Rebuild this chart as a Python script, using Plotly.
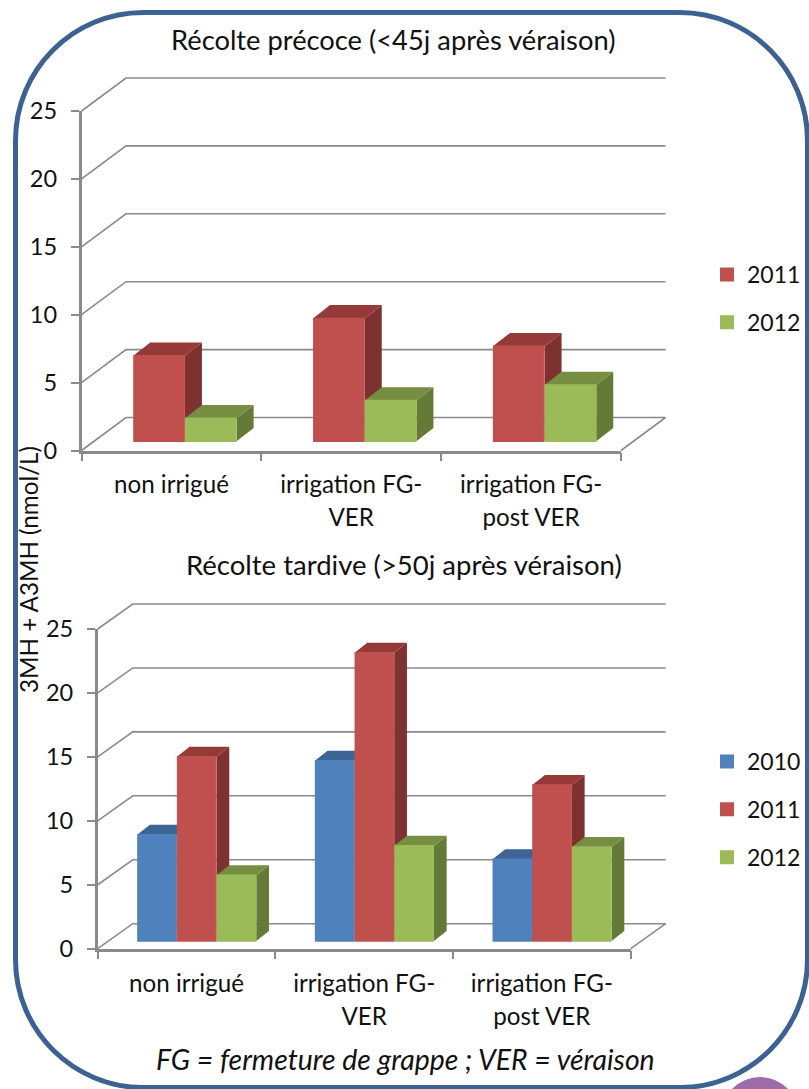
import plotly.graph_objects as go

W, H = 809, 1089
FONT = "Lato"
GRID = "#8a8a8a"

# ---- data ----
categories = ["non irrigué", "irrigation FG-<br>VER", "irrigation FG-<br>post VER"]
top_years = ["2011", "2012"]
top_2011 = [6.3, 9.05, 7.0]
top_2012 = [1.7, 3.0, 4.15]
bottom_years = ["2010", "2011", "2012"]
bottom_2010 = [8.3, 14.1, 6.4]
bottom_2011 = [14.4, 22.55, 12.2]
bottom_2012 = [5.15, 7.45, 7.35]
y_ticks = [0, 5, 10, 15, 20, 25]

front = {"2010": "#4F81BD", "2011": "#C0504D", "2012": "#9BBB59"}
roof = {"2010": "#3C6494", "2011": "#953A38", "2012": "#768E42"}
side = {"2010": "#345780", "2011": "#7D3230", "2012": "#667A37"}


def py(p):
    return 1 - p / H


def axis_key(letter, n):
    return f"{letter}axis" if n == 1 else f"{letter}axis{n}"


def panel(fig, idx, series, names, box, wall, bar, legend_name):
    """box = px left,right,bottom(y=0),top(y=25); wall = px depth; bar = px geometry"""
    left, right, y0, y25 = box
    ux = (right - left) / 3          # px per category
    uy = (y0 - y25) / 25             # px per unit
    wdx, wdy = wall[0] / ux, wall[1] / uy
    n = len(series)
    bw = bar["w"] / ux
    base = bar["lift"] / uy
    bdx, bdy = bar["dx"] / ux, bar["dy"] / uy
    shift = bar["shift"] / ux

    # three stacked coordinate systems: walls (wider box), faces + visible axes, bar fronts
    a_wall, a_face, a_bar = idx * 3 + 1, idx * 3 + 2, idx * 3 + 3
    dom_x = [left / W, right / W]
    dom_y = [py(y0), py(y25)]
    pad = 3

    # walls and gridlines
    gx, gy = [], []
    for t in y_ticks:
        gx += [0, wdx, 3 + wdx, None]
        gy += [t, t + wdy, t + wdy, None]
    gx += [3, 3 + wdx, None]
    gy += [0, wdy, None]
    fig.add_trace(go.Scatter(x=gx, y=gy, mode="lines", line=dict(color=GRID, width=1.6),
                             xaxis=f"x{a_wall}", yaxis=f"y{a_wall}", showlegend=False,
                             hoverinfo="skip"))

    # side and top faces, under the fronts
    xa, ya = f"x{a_face}", f"y{a_face}"
    for c in range(3):
        for s, (vals, name) in enumerate(zip(series, names)):
            x0 = c + 0.5 + shift + (s - n / 2) * bw
            x1 = x0 + bw
            v = base + vals[c]
            fig.add_trace(go.Scatter(
                x=[x1, x1 + bdx, x1 + bdx, x1, x1],
                y=[base, base + bdy, v + bdy, v, base],
                mode="lines", fill="toself", fillcolor=side[name], line=dict(width=0),
                xaxis=xa, yaxis=ya, showlegend=False, hoverinfo="skip"))
            fig.add_trace(go.Scatter(
                x=[x0, x0 + bdx, x1 + bdx, x1, x0],
                y=[v, v + bdy, v + bdy, v, v],
                mode="lines", fill="toself", fillcolor=roof[name], line=dict(width=0),
                xaxis=xa, yaxis=ya, showlegend=False, hoverinfo="skip"))

    # bar fronts
    xo, yo = f"x{a_bar}", f"y{a_bar}"
    for s, (vals, name) in enumerate(zip(series, names)):
        xs = [c + 0.5 + shift + (s - n / 2 + 0.5) * bw for c in range(3)]
        fig.add_trace(go.Bar(x=xs, y=vals, base=[base] * 3, width=bw - 1.5 / ux, name=name,
                             marker=dict(color=front[name], line=dict(color=front[name], width=1.5)),
                             xaxis=xo, yaxis=yo, legend=legend_name, legendgroup=name + legend_name,
                             showlegend=True))

    tick_text = [f'<span style="font-size:{LABEL}px">' + t + "</span>" for t in categories]
    fig.update_layout(**{
        axis_key("x", a_wall): dict(domain=[(left - pad) / W, (right + wall[0] + pad) / W],
                                    range=[-pad / ux, 3 + wdx + pad / ux],
                                    anchor=f"y{a_wall}", visible=False),
        axis_key("y", a_wall): dict(domain=[py(y0 + pad), py(y25 - wall[1] - pad)],
                                    range=[-pad / uy, 25 + wdy + pad / uy],
                                    anchor=f"x{a_wall}", visible=False),
        axis_key("x", a_face): dict(domain=dom_x, range=[0, 3], anchor=ya, tickvals=[0.5, 1.5, 2.5],
                   ticktext=tick_text, ticks="", showgrid=False, zeroline=False, showline=True,
                   linecolor=GRID, linewidth=2.5, tickfont=dict(family=FONT, size=25.4, color="#111"),
                   tickangle=0, ticklabelstandoff=bar["label_gap"],
                   minor=dict(tickvals=[0, 1, 2, 3], ticks="outside", ticklen=8,
                              tickcolor=GRID, tickwidth=1.6, showgrid=False)),
        axis_key("y", a_face): dict(domain=dom_y, range=[0, 25], anchor=xa, tickvals=y_ticks, ticks="outside",
                   ticklen=8, tickcolor=GRID, tickwidth=1.6, showgrid=False, zeroline=False,
                   showline=True, linecolor=GRID, linewidth=2.5, ticklabelstandoff=9,
                   tickfont=dict(family=FONT, size=23.5, color="#111")),
        axis_key("x", a_bar): dict(domain=dom_x, range=[0, 3], overlaying=xa, anchor=yo, visible=False),
        axis_key("y", a_bar): dict(domain=dom_y, range=[0, 25], overlaying=ya, anchor=xo, visible=False),
    })


LABEL = 24.2
fig = go.Figure()
panel(fig, 0, [top_2011, top_2012], top_years,
      (81.5, 621, 450.5, 111), (44.5, 33),
      dict(w=51.7, lift=9.2, dx=17, dy=13.3, shift=13.5, label_gap=9), "legend")
panel(fig, 1, [bottom_2010, bottom_2011, bottom_2012], bottom_years,
      (97.7, 630.7, 948.7, 629), (35, 25),
      dict(w=39.7, lift=7.7, dx=12.7, dy=10, shift=10.2, label_gap=10), "legend2")

# rounded frame
L, R, T, B, r = 15.5, 807.5, 12.5, 1087.5, 128
k = r * 0.448
def P(x, y):
    return f"{x / W:.5f},{py(y):.5f}"
frame = (f"M{P(L + r, T)} L{P(R - r, T)} C{P(R - k, T)} {P(R, T + k)} {P(R, T + r)} "
         f"L{P(R, B - r)} C{P(R, B - k)} {P(R - k, B)} {P(R - r, B)} "
         f"L{P(L + r, B)} C{P(L + k, B)} {P(L, B - k)} {P(L, B - r)} "
         f"L{P(L, T + r)} C{P(L, T + k)} {P(L + k, T)} {P(L + r, T)} Z")
shapes = [
    dict(type="path", xref="paper", yref="paper", path=frame, line=dict(color="#3B6291", width=5)),
    dict(type="circle", xref="paper", yref="paper", x0=(760 - 38.5) / W, x1=(760 + 38.5) / W,
         y0=py(1077 + 77), y1=py(1077), fillcolor="#9F6CAB", line=dict(width=0)),
]

def note(text, x, y, size=LABEL, angle=0):
    return dict(text=text, x=x / W, y=py(y), xref="paper", yref="paper", showarrow=False,
                xanchor="center", yanchor="middle", textangle=angle,
                font=dict(family=FONT, size=size, color="#111"))

annotations = [
    note("Récolte précoce (&lt;45j après véraison)", 393, 39, 27.3),
    note("Récolte tardive (&gt;50j après véraison)", 403.5, 564, 27.5),
    note("3MH + A3MH (nmol/L)", 28, 570, 24.2, -90),
    note("<i>FG = fermeture de grappe ; VER = véraison</i>", 405.5, 1059, 28.4),
]

legend_common = dict(xanchor="left", yanchor="top", bgcolor="rgba(0,0,0,0)",
                     font=dict(family=FONT, size=23, color="#111"), tracegroupgap=15,
                     itemsizing="constant", traceorder="grouped")
fig.update_layout(
    width=W, height=H, autosize=False, margin=dict(l=0, r=0, t=0, b=0, autoexpand=False),
    paper_bgcolor="white", plot_bgcolor="rgba(0,0,0,0)", barmode="overlay",
    shapes=shapes, annotations=annotations, hovermode=False,
    legend=dict(x=707 / W, y=py(253), **legend_common),
    legend2=dict(x=707 / W, y=py(740), **legend_common),
)
fig.write_html("out.html", post_script="document.body.style.margin='0';",
               config=dict(displayModeBar=False))
